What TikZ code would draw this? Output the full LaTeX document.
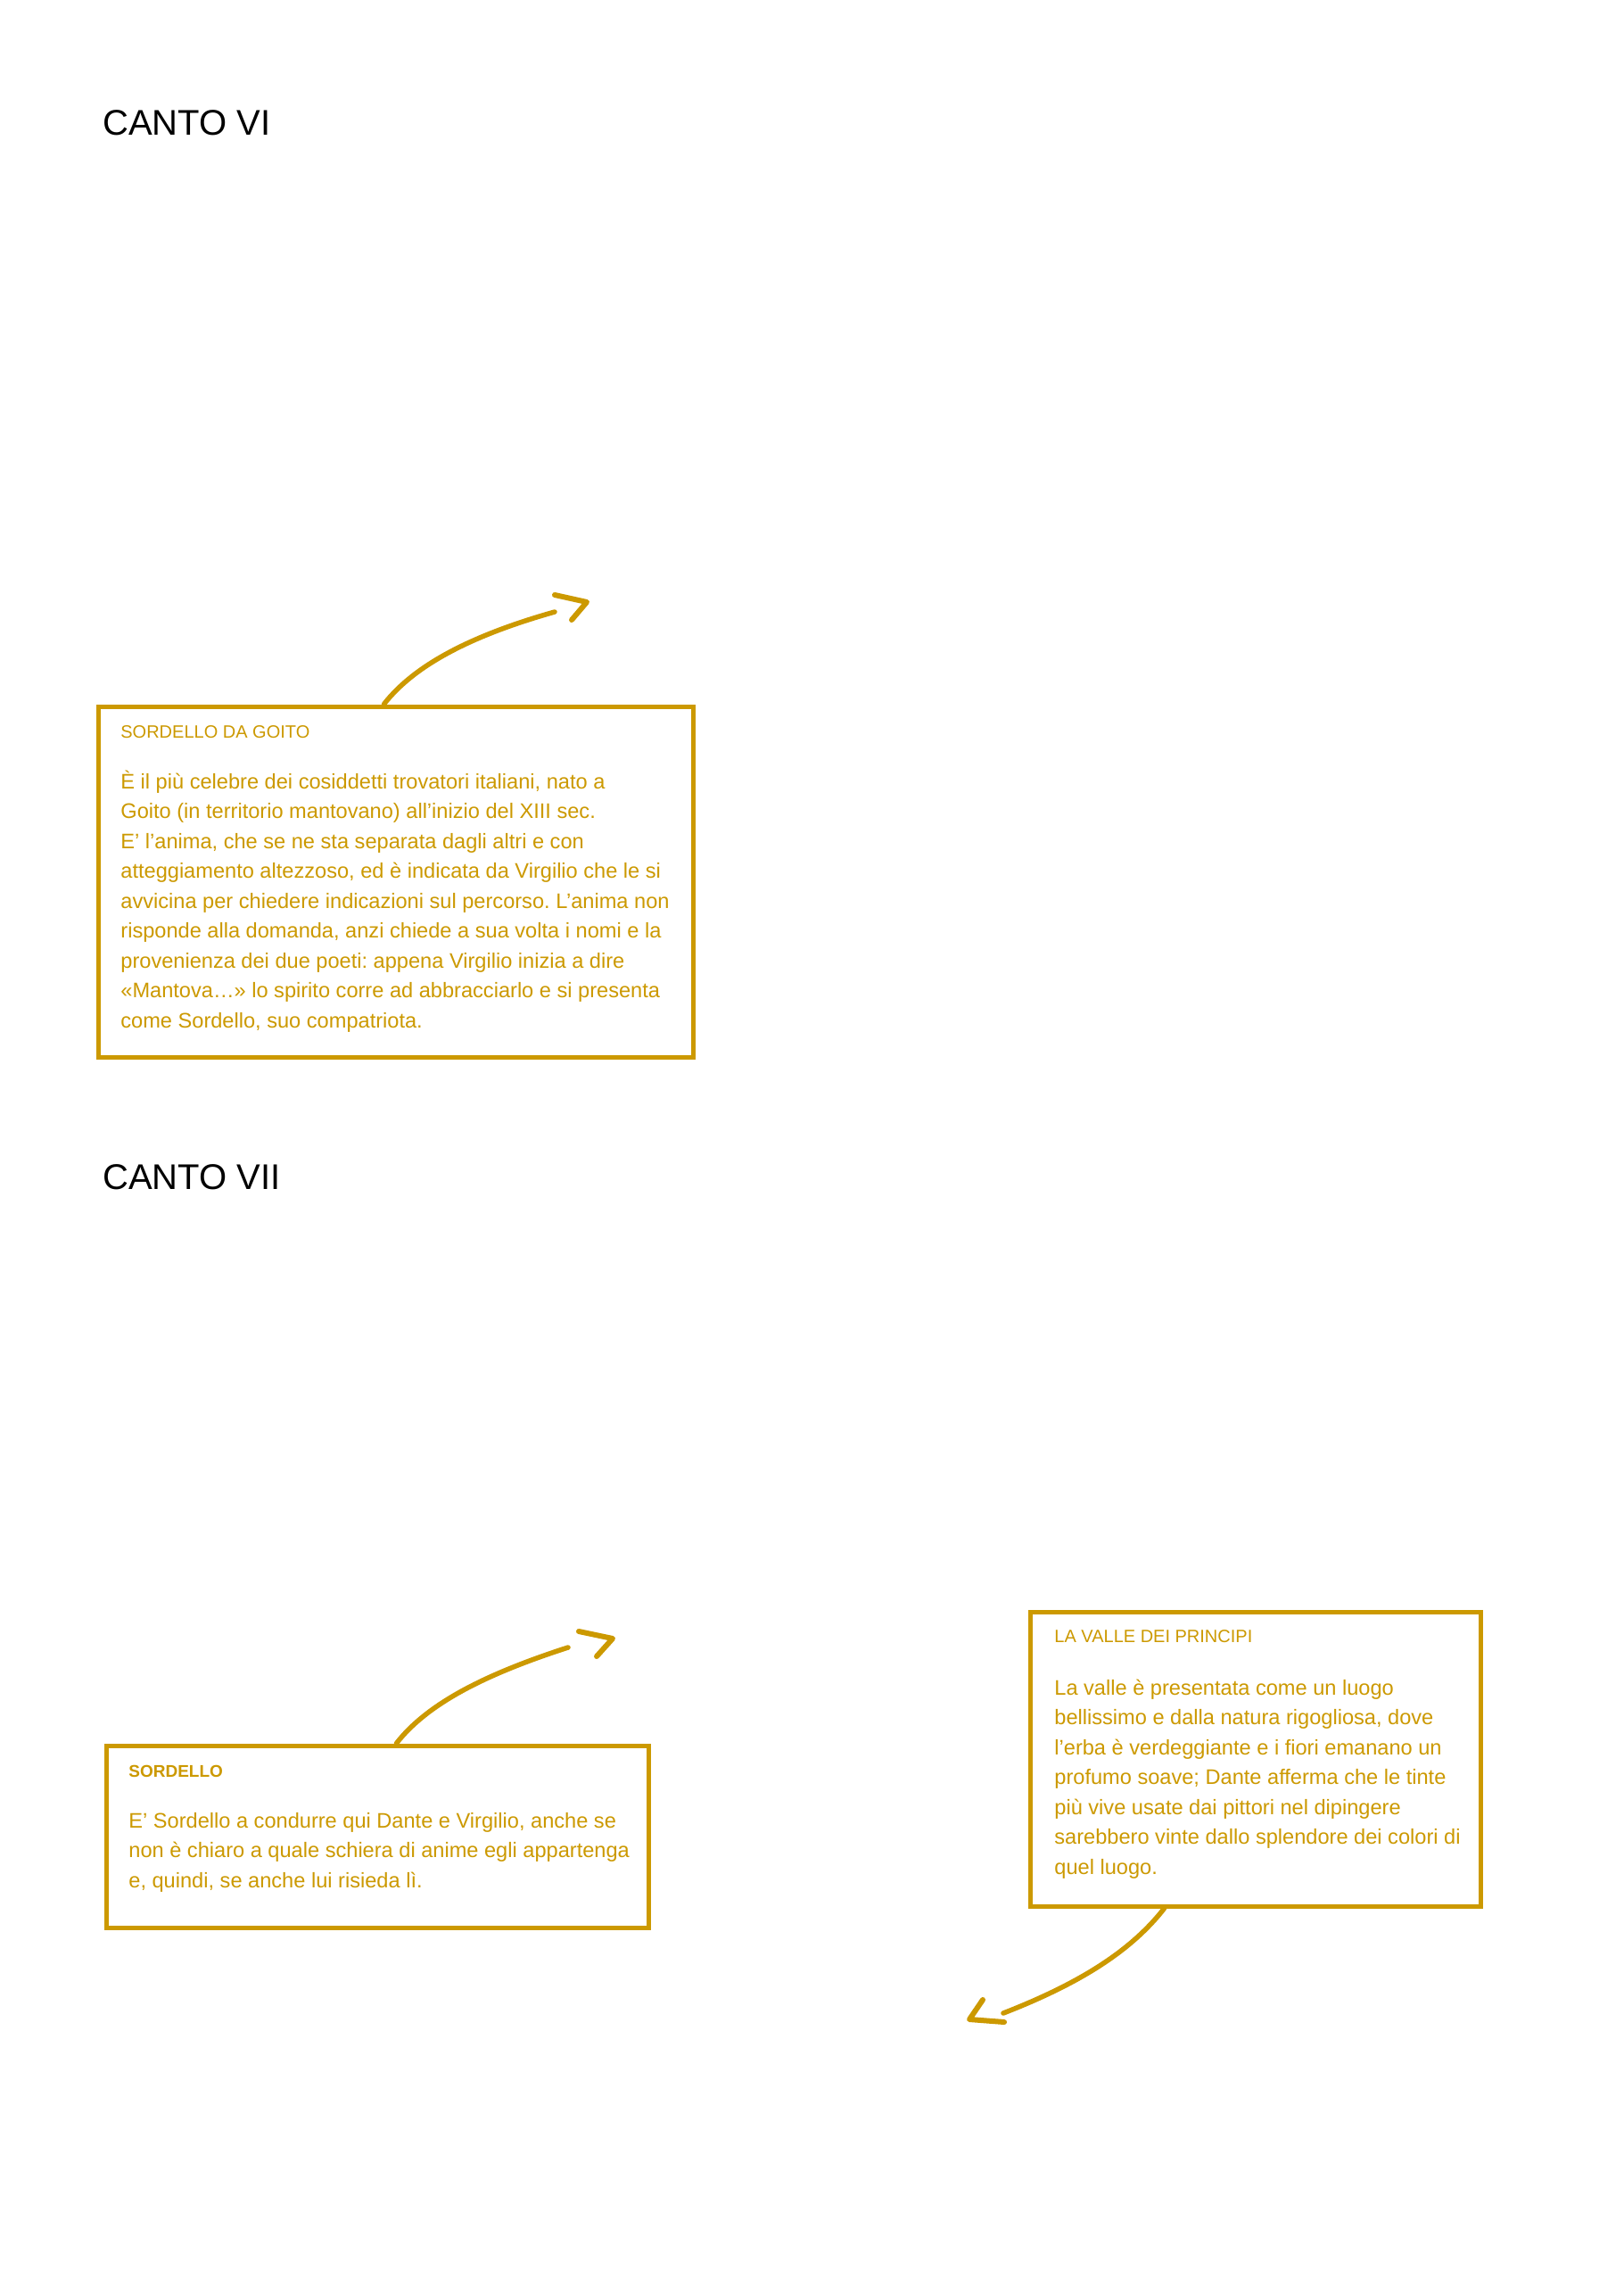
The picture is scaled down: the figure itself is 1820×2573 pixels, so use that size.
\documentclass[tikz,border=0pt]{standalone}
\usepackage{fontspec}
\setmainfont{Liberation Sans}
\usetikzlibrary{calc}
\definecolor{gold}{RGB}{204,153,0}
\frenchspacing
\begin{document}
\begin{tikzpicture}[x=0.5pt,y=-0.5pt,
  box/.style={draw=gold, line width=2.5pt, rectangle, inner sep=0pt},
  canto/.style={anchor=base west, inner sep=0pt, text=black, font=\fontsize{20}{24}\selectfont},
  boxtitle/.style={anchor=base west, inner sep=0pt, text=gold, font=\fontsize{10}{12}\selectfont},
  boldtitle/.style={anchor=base west, inner sep=0pt, text=gold, font=\fontsize{9.5}{12}\selectfont\bfseries},
  body/.style={anchor=base west, inner sep=0pt, text=gold, font=\fontsize{11.8}{16.75}\selectfont\frenchspacing},
  conn/.style={draw=gold, line width=2.75pt, line cap=round, line join=round},
  headline/.style={draw=gold, line width=3pt, line cap=round, line join=round}]
\useasboundingbox (0,0) rectangle (1820,2573);
\fill[white] (0,0) rectangle (1820,2573);

% titles
\node[canto] (c6) at (115,152) {CANTO VI};
\node[canto] (c7) at (115,1333) {CANTO VII};

% boxes
\node[box, minimum width=333.5pt, minimum height=196.5pt] (box1) at (443.5,988.5) {};
\node[box, minimum width=304pt, minimum height=102pt] (box2) at (423,2059) {};
\node[box, minimum width=252.5pt, minimum height=165pt] (box3) at (1407.5,1972) {};

% box 1 text
\node[boxtitle] (t1) at (135,827) {SORDELLO DA GOITO};
\foreach \t [count=\i from 0] in {
  {È il più celebre dei cosiddetti trovatori italiani, nato a},
  {Goito (in territorio mantovano) all’inizio del XIII sec.},
  {E’ l’anima, che se ne sta separata dagli altri e con},
  {atteggiamento altezzoso, ed è indicata da Virgilio che le si},
  {avvicina per chiedere indicazioni sul percorso. L’anima non},
  {risponde alla domanda, anzi chiede a sua volta i nomi e la},
  {provenienza dei due poeti: appena Virgilio inizia a dire},
  {«Mantova…» lo spirito corre ad abbracciarlo e si presenta},
  {come Sordello, suo compatriota.}}
  \node[body] (bA\i) at (135,{884+33.5*\i}) {\t};

% box 2 text
\node[boldtitle] (t2) at (144,1992) {SORDELLO};
\foreach \t [count=\i from 0] in {
  {E’ Sordello a condurre qui Dante e Virgilio, anche se},
  {non è chiaro a quale schiera di anime egli appartenga},
  {e, quindi, se anche lui risieda lì.}}
  \node[body] (bB\i) at (144,{2049+33.5*\i}) {\t};

% box 3 text
\node[boxtitle] (t3) at (1182,1841) {LA VALLE DEI PRINCIPI};
\foreach \t [count=\i from 0] in {
  {La valle è presentata come un luogo},
  {bellissimo e dalla natura rigogliosa, dove},
  {l’erba è verdeggiante e i fiori emanano un},
  {profumo soave; Dante afferma che le tinte},
  {più vive usate dai pittori nel dipingere},
  {sarebbero vinte dallo splendore dei colori di},
  {quel luogo.}}
  \node[body] (bC\i) at (1182,{1900+33.5*\i}) {\t};

% connector coordinates
\coordinate (a1e) at (622,686);
\coordinate (a1t) at (658,675);
\coordinate (a2e) at (637,1847);
\coordinate (a2t) at (687,1837);
\coordinate (a3e) at (1125,2257);
\coordinate (a3t) at (1087,2264);

% arrow 1
\draw[conn] ($(box1.north west)+(323,0)$) .. controls (465,745) and (530,712) .. (a1e);
\draw[headline] ($(a1t)+(-36,-8)$) -- (a1t) -- ($(a1t)+(-17,20)$);
% arrow 2
\draw[conn] ($(box2.north west)+(328,0)$) .. controls (479,1910) and (544,1877) .. (a2e);
\draw[headline] ($(a2t)+(-38,-8)$) -- (a2t) -- ($(a2t)+(-18,20)$);
% arrow 3
\draw[conn] ($(box3.south west)+(153,0)$) .. controls (1270,2185) and (1215,2222) .. (a3e);
\draw[headline] ($(a3t)+(15,-22)$) -- (a3t) -- ($(a3t)+(39,3)$);
\end{tikzpicture}
\end{document}
